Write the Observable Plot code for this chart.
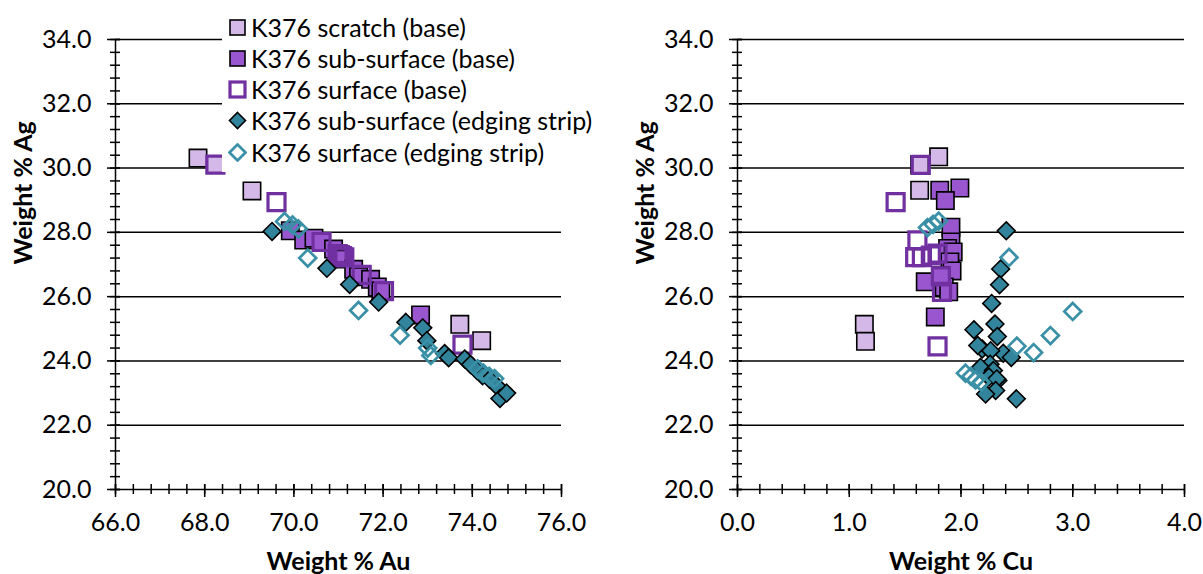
<!DOCTYPE html>
<html><head><meta charset="utf-8">
<script src="https://cdn.jsdelivr.net/npm/d3@7"></script>
<script src="https://cdn.jsdelivr.net/npm/@observablehq/plot@0.6"></script>
<style>
body{margin:0;background:#fff;font-family:Lato,sans-serif;}
#wrap{position:relative;width:1203px;height:574px;overflow:hidden;background:#fff;}
#left,#right{position:absolute;top:0;}
#left{left:0px}
#right{left:600px}
#legend{position:absolute;left:222px;top:0px;width:400px;height:172px;background:#fff;}
.row{position:absolute;left:0;height:31px;display:flex;align-items:center;font-size:25px;color:#000;white-space:nowrap;font-family:Lato,sans-serif;}
.row svg{margin-right:4px;margin-left:6px;}
</style></head><body>
<div id="wrap"><div id="left"></div><div id="right"></div><div id="legend"></div></div>
<script>
// ---------- data ----------
const seriesNames = ["K376 scratch (base)", "K376 sub-surface (base)", "K376 surface (base)", "K376 sub-surface (edging strip)", "K376 surface (edging strip)"];

// left panel: Weight % Au vs Weight % Ag
const scratchAu = [67.85, 68.24, 69.06, 73.72, 74.21];
const scratchAgL = [30.31, 30.11, 29.29, 25.14, 24.63];
const subBaseAu = [69.92, 70.22, 70.45, 70.62, 70.89, 71.02, 71.08, 71.34, 71.45, 71.72, 71.87, 71.95, 72.84];
const subBaseAgL = [28.05, 27.76, 27.82, 27.70, 27.48, 27.30, 27.17, 26.85, 26.62, 26.54, 26.30, 26.18, 25.43];
const surfBaseAu = [68.24, 69.61, 70.62, 70.98, 71.03, 71.08, 71.13, 71.52, 72.02, 73.78];
const surfBaseAgL = [30.11, 28.94, 27.70, 27.32, 27.29, 27.26, 27.22, 26.68, 26.17, 24.51];
const subEdgeAu = [69.51, 70.74, 71.25, 71.90, 72.51, 72.89, 72.98, 73.38, 73.47, 73.83, 73.96, 74.10, 74.23, 74.39, 74.55, 74.62, 74.77];
const subEdgeAgL = [28.03, 26.88, 26.38, 25.83, 25.20, 25.03, 24.63, 24.23, 24.10, 24.06, 23.89, 23.71, 23.54, 23.43, 23.22, 22.83, 23.00];
const surfEdgeAu = [69.79, 69.97, 70.10, 70.31, 71.45, 72.38, 73.00, 73.07, 74.12, 74.25, 74.38, 74.50];
const surfEdgeAgL = [28.34, 28.23, 28.11, 27.20, 25.57, 24.80, 24.40, 24.17, 23.75, 23.62, 23.52, 23.45];

// right panel: Weight % Cu vs Weight % Ag
const scratchCu = [1.80, 1.63, 1.63, 1.135, 1.145];
const scratchAgR = [30.35, 30.10, 29.31, 25.14, 24.61];
const subBaseCu = [1.81, 1.99, 1.86, 1.91, 1.91, 1.88, 1.93, 1.90, 1.92, 1.68, 1.85, 1.89, 1.77, 1.82];
const subBaseAgR = [29.31, 29.38, 28.99, 28.16, 27.70, 27.50, 27.39, 27.08, 26.80, 26.46, 26.30, 26.15, 25.37, 26.65];
const surfBaseCu = [1.64, 1.415, 1.61, 1.59, 1.65, 1.73, 1.79, 1.82, 1.83, 1.79];
const surfBaseAgR = [30.10, 28.94, 27.75, 27.23, 27.23, 27.28, 27.34, 26.63, 26.15, 24.45];
const subEdgeCu = [2.405, 2.355, 2.345, 2.274, 2.116, 2.304, 2.325, 2.378, 2.45, 2.19, 2.265, 2.15, 2.26, 2.175, 2.29, 2.25, 2.33, 2.32, 2.31, 2.22, 2.495];
const subEdgeAgR = [28.05, 26.86, 26.37, 25.79, 24.97, 25.15, 24.76, 24.24, 24.11, 24.37, 24.32, 24.48, 23.90, 23.80, 23.70, 23.50, 23.39, 23.44, 23.08, 22.97, 22.82];
const surfEdgeCu = [1.70, 1.75, 1.80, 2.43, 3.00, 2.80, 2.50, 2.65, 2.04, 2.09, 2.13, 2.18];
const surfEdgeAgR = [28.15, 28.25, 28.35, 27.22, 25.54, 24.79, 24.46, 24.26, 23.62, 23.52, 23.41, 23.34];

// axes
const agMajor = [20, 22, 24, 26, 28, 30, 32, 34];
const auMajor = [66, 68, 70, 72, 74, 76];
const cuMajor = [0, 1, 2, 3, 4];

// ---------- styles ----------
const styles = [
  {symbol: "square", fill: "#D4B8E8", stroke: "#000", strokeWidth: 1.6, r: 9.8},
  {symbol: "square", fill: "#9A56CE", stroke: "#000", strokeWidth: 1.6, r: 9.8},
  {symbol: "square", fill: "none", stroke: "#7030A0", strokeWidth: 3.2, r: 9.6},
  {symbol: "diamond2", fill: "#31849B", stroke: "#000", strokeWidth: 1.6, r: 8.0},
  {symbol: "diamond2", fill: "none", stroke: "#3A90A6", strokeWidth: 2.7, r: 7.6}
];

const zip = (xs, ys) => xs.map((x, i) => ({x, y: ys[i]}));
const leftSets = [zip(scratchAu, scratchAgL), zip(subBaseAu, subBaseAgL), zip(surfBaseAu, surfBaseAgL), zip(subEdgeAu, subEdgeAgL), zip(surfEdgeAu, surfEdgeAgL)];
const rightSets = [zip(scratchCu, scratchAgR), zip(subBaseCu, subBaseAgR), zip(surfBaseCu, surfBaseAgR), zip(subEdgeCu, subEdgeAgR), zip(surfEdgeCu, surfEdgeAgR)];

const range = (a, b, s) => { const out = []; const n = Math.round((b - a) / s); for (let i = 0; i <= n; i++) out.push(+(a + i * s).toFixed(4)); return out; };

function panel({xDomain, xMajor, xMinorStep, xTitle, width, marginLeft, marginRight, sets}) {
  const agMinor = range(20, 34, 0.4);
  const xMinor = range(xDomain[0], xDomain[1], xMinorStep);
  const lw = 1.5;
  return Plot.plot({
    width, height: 574,
    marginTop: 39, marginBottom: 85, marginLeft, marginRight,
    x: {domain: xDomain},
    y: {domain: [20, 34]},
    style: {fontFamily: "Lato, sans-serif", fontSize: "25px", color: "#000", background: "transparent", overflow: "visible"},
    marks: [
      Plot.ruleY(agMajor.filter(d => d > 20), {stroke: "#000", strokeWidth: lw}),
      Plot.ruleY([20], {stroke: "#000", strokeWidth: lw}),
      Plot.ruleX([xDomain[0]], {stroke: "#000", strokeWidth: lw}),
      Plot.axisY({ticks: agMinor, tickSize: 10, dx: 5, tickFormat: () => "", label: null, strokeWidth: lw}),
      Plot.axisY({ticks: agMajor, tickSize: 13, dx: 5, tickFormat: () => "", label: null, strokeWidth: lw}),
      Plot.axisY({ticks: agMajor, tickSize: 0, tickPadding: 24, tickFormat: d3.format(".1f"), label: null, fontSize: 25}),
      Plot.axisX({ticks: xMinor, tickSize: 10, dy: -5, tickFormat: () => "", label: null, strokeWidth: lw}),
      Plot.axisX({ticks: xMajor, tickSize: 13, dy: -5, tickFormat: () => "", label: null, strokeWidth: lw}),
      Plot.axisX({ticks: xMajor, tickSize: 0, tickPadding: 24, tickFormat: d3.format(".1f"), label: null, fontSize: 25}),
      ...sets.map((data, i) => Plot.dot(data, {x: "x", y: "y", ...styles[i]})),
      Plot.text(["Weight % Ag"], {frameAnchor: "left", dx: -92, rotate: -90, fontWeight: "bold", fontSize: 25, fill: "#000"}),
      Plot.text([xTitle], {frameAnchor: "bottom", dy: 80, fontWeight: "bold", fontSize: 25, fill: "#000"})
    ]
  });
}

document.getElementById("left").append(panel({
  xDomain: [66, 76], xMajor: auMajor, xMinorStep: 0.4, xTitle: "Weight % Au",
  width: 600, marginLeft: 115, marginRight: 39, sets: leftSets
}));
document.getElementById("right").append(panel({
  xDomain: [0, 4], xMajor: cuMajor, xMinorStep: 0.2, xTitle: "Weight % Cu",
  width: 603, marginLeft: 137, marginRight: 19, sets: rightSets
}));

// ---------- legend ----------
const legend = document.getElementById("legend");
const legendCenters = [27, 58, 89, 120, 152];
seriesNames.forEach((name, i) => {
  const s = styles[i];
  const row = document.createElement("div");
  row.className = "row";
  row.style.top = (legendCenters[i] - 15.5) + "px";
  const shape = s.symbol === "square"
    ? `<rect x="2" y="2" width="15" height="15" fill="${s.fill}" stroke="${s.stroke}" stroke-width="${s.strokeWidth}"/>`
    : `<path d="M9.5,1.5L17.5,9.5L9.5,17.5L1.5,9.5Z" fill="${s.fill}" stroke="${s.stroke}" stroke-width="${s.strokeWidth}"/>`;
  row.innerHTML = `<svg width="19" height="19" viewBox="0 0 19 19">${shape}</svg><span>${name}</span>`;
  legend.append(row);
});
</script>
</body></html>
